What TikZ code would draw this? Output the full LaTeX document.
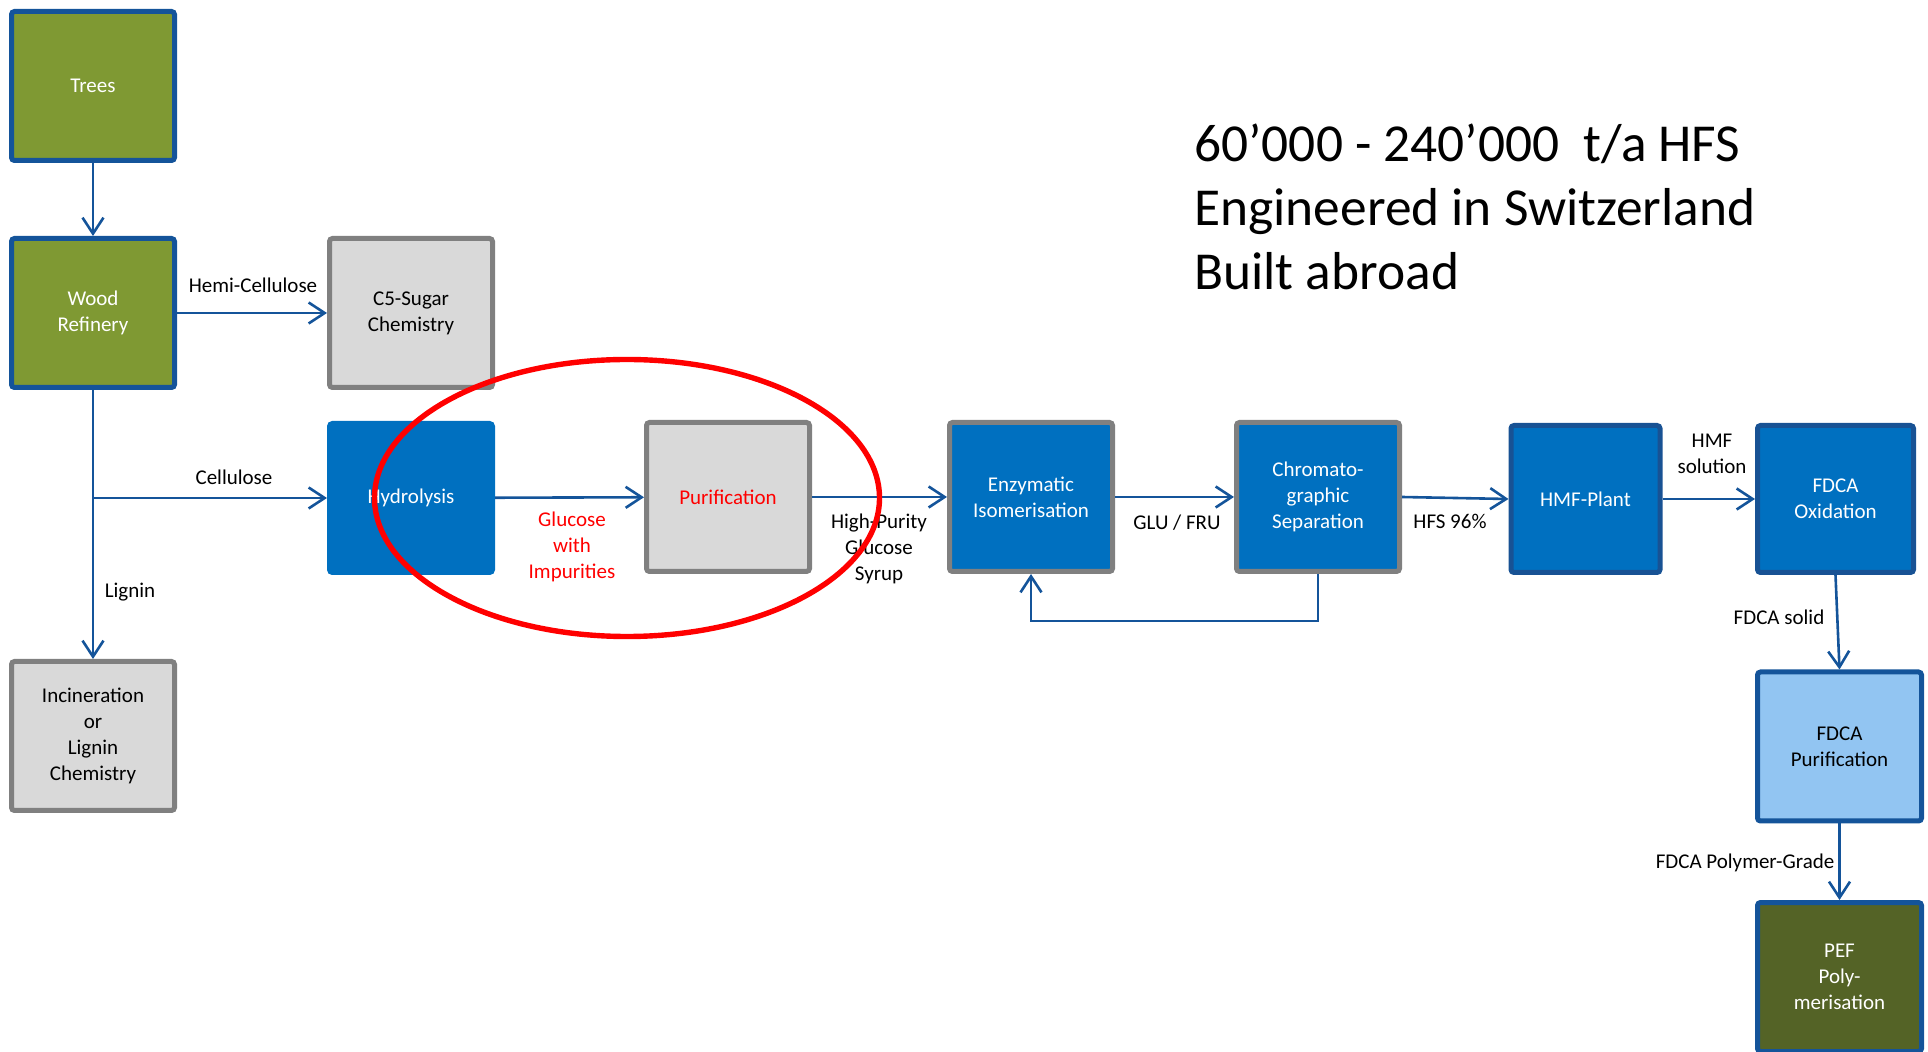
\documentclass[tikz,border=0pt]{standalone}
\usepackage{fontspec}
\setmainfont{Carlito}
\usetikzlibrary{arrows.meta,shapes.geometric}
\definecolor{cGreen}{HTML}{7F9933}
\definecolor{cEdge}{HTML}{14549A}
\definecolor{cBlue}{HTML}{0070C0}
\definecolor{cDarkB}{HTML}{185294}
\definecolor{cLight}{HTML}{92C5F2}
\definecolor{cPef}{HTML}{546326}
\definecolor{cGreyF}{HTML}{D9D9D9}
\definecolor{cGreyB}{HTML}{808080}
\definecolor{cRed}{HTML}{FF0000}
\begin{document}
\begin{tikzpicture}[x=0.5pt,y=-0.5pt,
  box/.style={rectangle, rounded corners=1.5pt, line width=2.5pt,
    minimum width=81.5pt, minimum height=74.5pt, align=center,
    inner sep=2pt, font=\fontsize{10.5pt}{13pt}\selectfont},
  greenbox/.style={box, fill=cGreen, draw=cEdge, text=white},
  greybox/.style={box, fill=cGreyF, draw=cGreyB, text=black},
  bluebox/.style={box, fill=cBlue, draw=cBlue, text=white},
  bluegrey/.style={box, fill=cBlue, draw=cGreyB, text=white},
  bluedark/.style={box, fill=cBlue, draw=cDarkB, text=white},
  lightbox/.style={box, fill=cLight, draw=cEdge, text=black},
  pefbox/.style={box, fill=cPef, draw=cEdge, text=white},
  arr/.style={draw=cEdge, line width=1.3pt, -{Straight Barb[length=8pt,width=10.5pt,line width=1.3pt]}},
  lbl/.style={align=center, inner sep=0pt, font=\fontsize{10.5pt}{13pt}\selectfont},
]
\useasboundingbox (0,0) rectangle (1928,1052);

% nodes
\node[greenbox] (trees) at (93,86) {Trees};
\node[greenbox] (wood) at (93,313) {Wood\\Refinery};
\node[greybox] (c5) at (411,313) {C5-Sugar\\Chemistry};
\node[greybox] (inc) at (93,736) {Incineration\\or\\Lignin\\Chemistry};
\node[bluebox] (hyd) at (411,498) {Hydrolysis};
\node[greybox, text=cRed] (pur) at (728,497) {Purification};
\node[bluegrey] (enz) at (1031,497) {Enzymatic\\Isomerisation};
\node[bluegrey] (chr) at (1318,497) {Chromato-\\graphic\\Separation};
\node[bluedark, minimum width=74.5pt, minimum height=73.5pt] (hmf) at (1585.5,499) {HMF-Plant};
\node[bluedark, minimum width=78pt, minimum height=73.5pt] (ox) at (1835.5,499) {FDCA\\Oxidation};
\node[lightbox, minimum width=82pt] (fp) at (1839.5,746.5) {FDCA\\Purification};
\node[pefbox, minimum width=82pt] (pef) at (1839.5,977) {PEF\\Poly-\\merisation};

\node[lbl, font=\fontsize{26.7pt}{32pt}\selectfont, align=left, anchor=west] (title) at (1194,207)
  {60’000 - 240’000\ \ t/a HFS\\Engineered in Switzerland\\Built abroad};

% connectors
\coordinate (br) at (wood.south |- hyd.west);
\draw[arr] (trees) -- (wood);
\draw[arr] (wood) -- (c5);
\draw[arr] (wood) -- (inc);
\draw[arr] (br) -- (hyd.west);
\draw[arr] (hyd) -- (pur);
\draw[arr] (pur) -- (enz);
\draw[arr] (enz) -- (chr);
\draw[arr] (chr.east) -- (hmf.west);
\draw[arr] (hmf) -- (ox);
\draw[arr] (ox.south) -- (fp.north);
\draw[arr] (fp) -- (pef);
\draw[arr] (chr.south) -- ++(0,47) -| (enz.south);

% labels
\node[lbl] (lhemi) at (253,285) {Hemi-Cellulose};
\node[lbl] (lcell) at (234,477) {Cellulose};
\node[lbl] (llig) at (130,592) {Lignin};
\node[lbl, text=cRed] (lglu) at (572,547) {Glucose\\with\\Impurities};
\node[lbl] (lhp) at (879,549) {High-Purity\\Glucose\\Syrup};
\node[lbl] (lgf) at (1177,523) {GLU / FRU};
\node[lbl] (lhfs) at (1450,521) {HFS 96\%};
\node[lbl] (lhmf) at (1712,454) {HMF\\solution};
\node[lbl] (lfs) at (1779,617) {FDCA solid};
\node[lbl] (lpg) at (1745,863) {FDCA Polymer-Grade};

% highlight ellipse
\node[ellipse, draw=cRed, line width=2.7pt, inner sep=0pt,
  minimum width=252.5pt, minimum height=138.5pt] (hl) at (627,498) {};
\end{tikzpicture}
\end{document}
